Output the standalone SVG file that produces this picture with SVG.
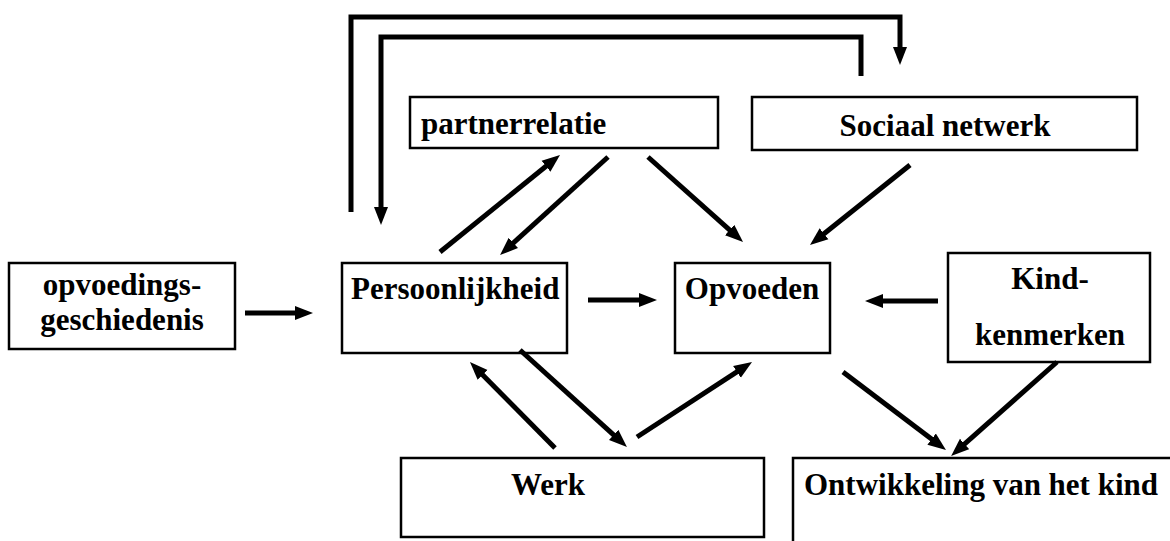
<svg xmlns="http://www.w3.org/2000/svg" width="1170" height="541" viewBox="0 0 1170 541">
  <style>
    .box { fill: #ffffff; stroke: #000000; stroke-width: 2.5; }
    .lbl { font-family: "Liberation Serif", "Times New Roman", serif; font-weight: bold; font-size: 31px; fill: #000000; }
    .mid { text-anchor: middle; }
    .link { fill: none; stroke: #000000; stroke-width: 5; stroke-linejoin: miter; }
  </style>
  <defs>
    <marker id="head" markerUnits="userSpaceOnUse" markerWidth="20" markerHeight="16" viewBox="0 0 20 16" refX="4" refY="8" orient="auto">
      <path d="M0,1 L18,8 L0,15 z" fill="#000000"/>
    </marker>
  </defs>

  <rect width="1170" height="541" fill="#ffffff"/>

  <g id="node-partnerrelatie">
    <rect class="box" x="410" y="97" width="308" height="51"/>
    <text class="lbl" x="421" y="134">partnerrelatie</text>
  </g>

  <g id="node-sociaal-netwerk">
    <rect class="box" x="752" y="97" width="385" height="53"/>
    <text class="lbl mid" x="945" y="136">Sociaal netwerk</text>
  </g>

  <g id="node-opvoedingsgeschiedenis">
    <rect class="box" x="9" y="263" width="226" height="86"/>
    <text class="lbl mid" x="122" y="295">opvoedings-</text>
    <text class="lbl mid" x="122" y="330">geschiedenis</text>
  </g>

  <g id="node-persoonlijkheid">
    <rect class="box" x="342" y="263" width="225" height="90"/>
    <text class="lbl" x="351" y="299">Persoonlijkheid</text>
  </g>

  <g id="node-opvoeden">
    <rect class="box" x="675" y="263" width="155" height="90"/>
    <text class="lbl mid" x="752" y="299">Opvoeden</text>
  </g>

  <g id="node-kindkenmerken">
    <rect class="box" x="948" y="253" width="202" height="109"/>
    <text class="lbl mid" x="1050" y="289">Kind-</text>
    <text class="lbl mid" x="1050" y="345">kenmerken</text>
  </g>

  <g id="node-werk">
    <rect class="box" x="401" y="458" width="363" height="79"/>
    <text class="lbl mid" x="548" y="495">Werk</text>
  </g>

  <g id="node-ontwikkeling">
    <rect class="box" x="793" y="458" width="420" height="120"/>
    <text class="lbl" x="804" y="495">Ontwikkeling van het kind</text>
  </g>

  <g id="connectors">
    <!-- feedback loops over the top between Persoonlijkheid and Sociaal netwerk -->
    <path class="link" d="M351,212 V17 H900 V51" marker-end="url(#head)"/>
    <path class="link" d="M861,76 V37 H381 V211" marker-end="url(#head)"/>

    <line class="link" x1="440" y1="252" x2="549.1" y2="163.8" marker-end="url(#head)"/>
    <line class="link" x1="608" y1="157" x2="510.4" y2="245.6" marker-end="url(#head)"/>
    <line class="link" x1="648" y1="157" x2="732.6" y2="232.7" marker-end="url(#head)"/>
    <line class="link" x1="910" y1="165" x2="820.9" y2="236.3" marker-end="url(#head)"/>

    <line class="link" x1="245" y1="313" x2="299" y2="313" marker-end="url(#head)"/>
    <line class="link" x1="588" y1="300" x2="643" y2="300" marker-end="url(#head)"/>
    <line class="link" x1="938" y1="301" x2="879" y2="301" marker-end="url(#head)"/>

    <line class="link" x1="555" y1="448" x2="479.8" y2="372" marker-end="url(#head)"/>
    <line class="link" x1="520" y1="350" x2="616.6" y2="437.6" marker-end="url(#head)"/>
    <line class="link" x1="637" y1="437" x2="740.3" y2="369.6" marker-end="url(#head)"/>

    <line class="link" x1="843" y1="372" x2="934.8" y2="441.5" marker-end="url(#head)"/>
    <line class="link" x1="1057" y1="362" x2="961.6" y2="446.7" marker-end="url(#head)"/>
  </g>
</svg>
